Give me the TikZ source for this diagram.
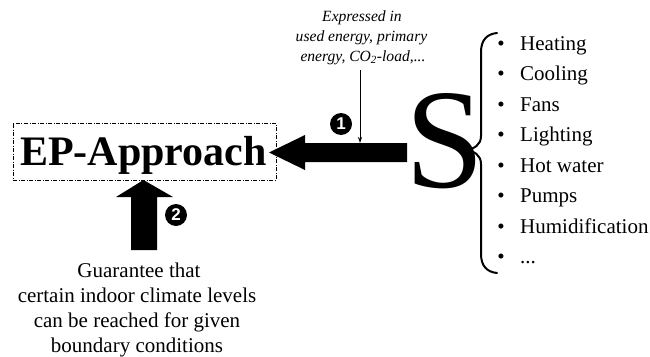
\documentclass[tikz,border=0pt]{standalone}
\usepackage{fontspec}
\setmainfont{Liberation Serif}
\setsansfont{Liberation Sans}
\usetikzlibrary{arrows.meta}
\tikzset{
  itemtxt/.style={anchor=base west, inner sep=0pt, font=\fontsize{21}{21}\selectfont},
  bul/.style={anchor=base, inner sep=0pt, font=\fontsize{21}{21}\selectfont},
  numcirc/.style={circle, fill=black, text=white, inner sep=0pt, minimum size=22pt, font=\sffamily\bfseries\fontsize{17}{17}\selectfont},
  bigarrow/.style={fill=black, draw=none},
  btxt/.style={anchor=base, inner sep=0pt, font=\fontsize{21}{21}\selectfont},
  itxt/.style={anchor=base, inner sep=0pt, font=\itshape\fontsize{15.6}{15.6}\selectfont},
}
\begin{document}
\begin{tikzpicture}[x=1pt,y=-1pt]
\useasboundingbox (0,0) rectangle (650,356);
% EP box
\node[draw, line width=1pt, dash pattern=on 4pt off 1.5pt on 1pt off 1.5pt,
      minimum width=263pt, minimum height=57pt, inner sep=0pt] (ep) at (144.5,151.5) {};
\node[anchor=base, inner sep=0pt, font=\bfseries\fontsize{42}{42}\selectfont] (eptxt) at (143.5,165) {EP-Approach};
% left arrow
\fill[bigarrow] (269,152.5) -- (305,135) -- (305,143) -- (407,143) -- (407,162) -- (305,162) -- (305,170) -- cycle;
% up arrow
\fill[bigarrow] (143.5,180) -- (173,197) -- (157,197) -- (157,250) -- (131,250) -- (131,197) -- (116,197) -- cycle;
% numbers
\node[numcirc] (n1) at (341,124) {1};
\node[numcirc] (n2) at (176,215) {2};
% italic text
\node[itxt] (t1) at (362,21.5) {Expressed in};
\node[itxt] (t2) at (361.5,41) {used energy, primary};
\node[itxt] (t3) at (363,61) {energy, CO\textsubscript{2}-load,...};
\coordinate (lt) at (360,70);
\coordinate (lb) at (360,143);
\draw[line width=0.8pt, -{Stealth[length=6pt,width=4pt]}] (lt) -- (lb);
% big S
\node[anchor=base, inner sep=0pt, font=\fontsize{142}{142}\selectfont] (S) at (445,187) {S};
% brace
\draw[line width=2pt, line cap=round] (497,33) .. controls (487,34) and (481,40) .. (481,52)
  -- (481,136) .. controls (481,145) and (474,149) .. (466,150)
  .. controls (474,151) and (481,155) .. (481,164)
  -- (481,254) .. controls (481,266) and (487,272) .. (497,273);
% items
\foreach \y/\t [count=\i] in {50/Heating, 80.5/Cooling, 111/Fans, 141.5/Lighting, 172/Hot water, 202.5/Pumps, 233/Humidification}{
  \node[bul] (b\i) at (501,\y) {\textbullet};
  \node[itemtxt] (i\i) at (520,\y) {\t};
}
\node[bul] (b8) at (501,263.5) {\textbullet};
\node[itemtxt] (i8) at (520,263.5) {...};
% bottom text
\node[btxt] (g1) at (139,277) {Guarantee that};
\node[btxt] (g2) at (137,302) {certain indoor climate levels};
\node[btxt] (g3) at (137,327) {can be reached for given};
\node[btxt] (g4) at (137,352) {boundary conditions};
\end{tikzpicture}
\end{document}
